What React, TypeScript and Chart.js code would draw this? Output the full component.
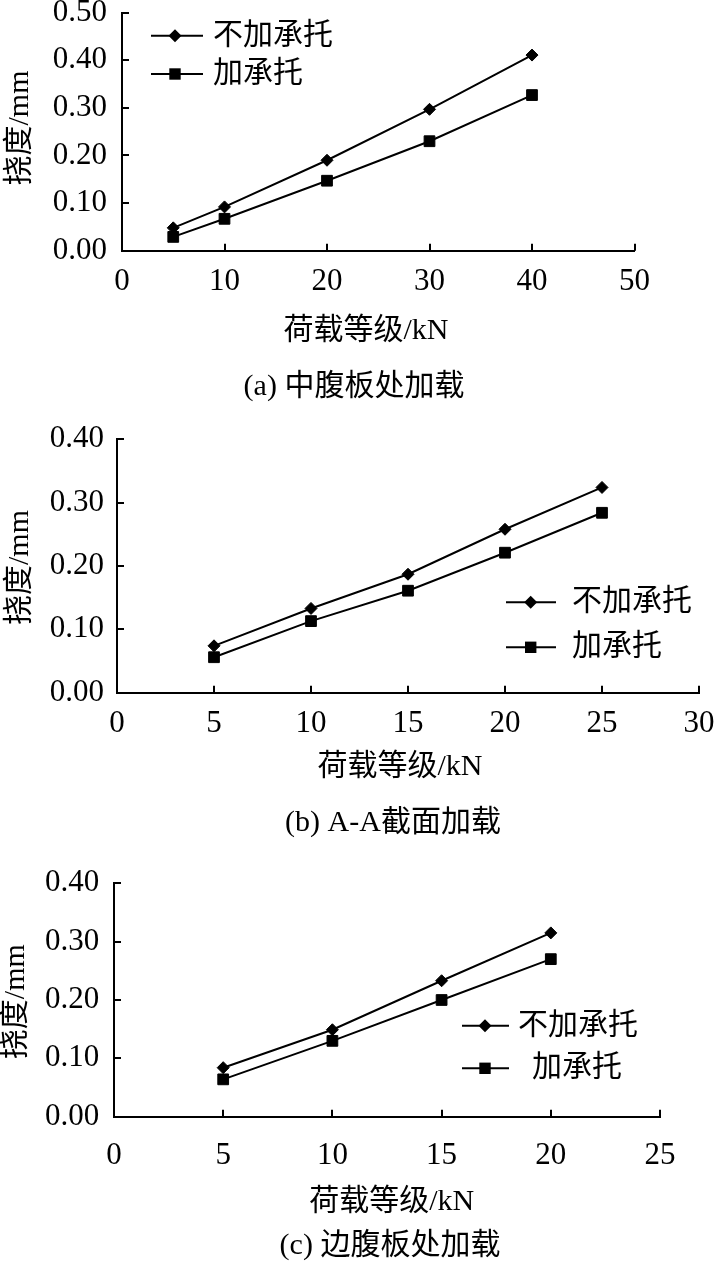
import React, { useEffect, useRef } from "react";
import { Chart, registerables } from "chart.js";

Chart.register(...registerables);

// ---------- data ----------
const legendLabels = ["不加承托", "加承托"];
const yAxisTitle = "挠度/mm";
const xAxisTitle = "荷载等级/kN";
const captions = ["(a) 中腹板处加载", "(b) A-A截面加载", "(c) 边腹板处加载"];

const loadsA = [5, 10, 20, 30, 40];
const noSupportA = [0.048, 0.092, 0.19, 0.297, 0.411];
const withSupportA = [0.029, 0.067, 0.147, 0.23, 0.327];

const loadsB = [5, 10, 15, 20, 25];
const noSupportB = [0.074, 0.133, 0.187, 0.258, 0.324];
const withSupportB = [0.056, 0.113, 0.161, 0.221, 0.284];

const loadsC = [5, 10, 15, 20];
const noSupportC = [0.084, 0.149, 0.233, 0.315];
const withSupportC = [0.064, 0.13, 0.2, 0.27];

const xMaxes = [50, 30, 25];
const xSteps = [10, 5, 5];
const yMaxes = [0.5, 0.4, 0.4];
const yStep = 0.1;

// ---------- styling / layout ----------
const SERIF = "'Liberation Serif', 'Times New Roman', 'Noto Sans CJK SC', serif";
const TEXT_FONT = "30px 'Liberation Serif', 'Noto Sans CJK SC', serif";
const TICK_SIZE = 31;
const W = 717;

type Panel = {
  top: number;
  height: number;
  area: { left: number; right: number; top: number; bottom: number };
  loads: number[];
  s1: number[];
  s2: number[];
  xMax: number;
  xStep: number;
  yMax: number;
  yTickPad: number;
  xTickPad: number;
  legend: { x0: number; x1: number; mx: number; rows: number[]; textX: number[] };
  yTitle: [number, number];
  xTitle: [number, number];
  caption: [number, number];
  captionText: string;
};

const panels: Panel[] = [
  {
    top: 0,
    height: 420,
    area: { left: 122, right: 634.5, top: 12.7, bottom: 250.7 },
    loads: loadsA,
    s1: noSupportA,
    s2: withSupportA,
    xMax: xMaxes[0],
    xStep: xSteps[0],
    yMax: yMaxes[0],
    yTickPad: 15,
    xTickPad: 13,
    legend: { x0: 151, x1: 203, mx: 175, rows: [35.7, 74], textX: [213, 213] },
    yTitle: [20, 128],
    xTitle: [366, 331],
    caption: [354, 387.5],
    captionText: captions[0],
  },
  {
    top: 420,
    height: 430,
    area: { left: 117, right: 699, top: 19.3, bottom: 272.7 },
    loads: loadsB,
    s1: noSupportB,
    s2: withSupportB,
    xMax: xMaxes[1],
    xStep: xSteps[1],
    yMax: yMaxes[1],
    yTickPad: 13,
    xTickPad: 13,
    legend: { x0: 506, x1: 556, mx: 530.7, rows: [182.3, 227.3], textX: [572, 572] },
    yTitle: [20, 147.5],
    xTitle: [400, 346.7],
    caption: [393, 402.7],
    captionText: captions[1],
  },
  {
    top: 850,
    height: 419,
    area: { left: 114, right: 660, top: 33.3, bottom: 266.7 },
    loads: loadsC,
    s1: noSupportC,
    s2: withSupportC,
    xMax: xMaxes[2],
    xStep: xSteps[2],
    yMax: yMaxes[2],
    yTickPad: 14.7,
    xTickPad: 21,
    legend: { x0: 462, x1: 509, mx: 485, rows: [175.7, 218.3], textX: [518, 532] },
    yTitle: [16, 151.7],
    xTitle: [391.7, 352],
    caption: [390, 396],
    captionText: captions[2],
  },
];

function drawMarker(ctx: CanvasRenderingContext2D, style: string, x: number, y: number) {
  ctx.beginPath();
  if (style === "rectRot") {
    const r = 6.5;
    ctx.moveTo(x - r, y);
    ctx.lineTo(x, y - r);
    ctx.lineTo(x + r, y);
    ctx.lineTo(x, y + r);
    ctx.closePath();
  } else {
    const h = 5.7;
    ctx.rect(x - h, y - h, 2 * h, 2 * h);
  }
  ctx.fill();
}

const decorPlugin = {
  id: "decor",
  afterDraw(chart: any, _args: any, opts: any) {
    const p: Panel = opts.panel;
    if (!p) return;
    const ctx: CanvasRenderingContext2D = chart.ctx;
    const xs = chart.scales.x;
    const ys = chart.scales.y;
    const ca = chart.chartArea;
    ctx.save();
    ctx.strokeStyle = "#000";
    ctx.fillStyle = "#000";
    ctx.lineWidth = 2;
    // inward tick marks
    ctx.beginPath();
    xs.ticks.forEach((t: any) => {
      const px = Math.round(xs.getPixelForValue(t.value));
      ctx.moveTo(px, ca.bottom);
      ctx.lineTo(px, ca.bottom - 7);
    });
    ys.ticks.forEach((t: any) => {
      const py = Math.round(ys.getPixelForValue(t.value));
      ctx.moveTo(ca.left, py);
      ctx.lineTo(ca.left + 7, py);
    });
    ctx.stroke();

    // legend
    const L = p.legend;
    ctx.font = TEXT_FONT;
    ctx.textBaseline = "middle";
    ctx.textAlign = "left";
    chart.data.datasets.forEach((ds: any, i: number) => {
      const y = L.rows[i];
      ctx.lineWidth = 2;
      ctx.beginPath();
      ctx.moveTo(L.x0, y);
      ctx.lineTo(L.x1, y);
      ctx.stroke();
      drawMarker(ctx, ds.pointStyle, L.mx, y);
      ctx.fillText(ds.label, L.textX[i], y);
    });

    // axis titles and caption
    ctx.textAlign = "center";
    ctx.fillText(xAxisTitle, p.xTitle[0], p.xTitle[1]);
    ctx.fillText(p.captionText, p.caption[0], p.caption[1]);
    ctx.translate(p.yTitle[0], p.yTitle[1]);
    ctx.rotate(-Math.PI / 2);
    ctx.fillText(yAxisTitle, 0, 0);
    ctx.restore();
  },
};

function PanelChart({ p }: { p: Panel }) {
  const ref = useRef<HTMLCanvasElement | null>(null);
  useEffect(() => {
    const canvas = ref.current;
    if (!canvas) return;
    const xScaleH = 60;
    const mk = (vals: number[]) => p.loads.map((x, i) => ({ x, y: vals[i] }));
    const dsBase = {
      borderColor: "#000",
      backgroundColor: "#000",
      borderWidth: 2,
      tension: 0,
      pointBackgroundColor: "#000",
      pointBorderColor: "#000",
      pointBorderWidth: 1,
    };
    const chart = new Chart(canvas, {
      type: "line",
      data: {
        datasets: [
          { ...dsBase, label: legendLabels[0], data: mk(p.s1), pointStyle: "rectRot", pointRadius: 6, pointHoverRadius: 6 },
          { ...dsBase, label: legendLabels[1], data: mk(p.s2), pointStyle: "rect", pointRadius: 7.6, pointHoverRadius: 7.6 },
        ],
      } as any,
      options: {
        animation: false,
        responsive: false,
        maintainAspectRatio: false,
        devicePixelRatio: 1,
        events: [],
        layout: {
          padding: {
            left: 0,
            top: p.area.top,
            right: W - p.area.right,
            bottom: p.height - p.area.bottom - xScaleH,
          },
        },
        plugins: {
          legend: { display: false },
          tooltip: { enabled: false },
          decor: { panel: p },
        } as any,
        scales: {
          x: {
            type: "linear",
            min: 0,
            max: p.xMax,
            grid: { display: false, drawTicks: false },
            border: { display: true, color: "#000", width: 2 },
            ticks: {
              stepSize: p.xStep,
              padding: p.xTickPad,
              color: "#000",
              font: { family: SERIF, size: TICK_SIZE },
              maxRotation: 0,
              autoSkip: false,
            },
            afterFit: (s: any) => {
              s.height = xScaleH;
              s.paddingLeft = 0;
              s.paddingRight = 0;
            },
          },
          y: {
            type: "linear",
            min: 0,
            max: p.yMax,
            grid: { display: false, drawTicks: false },
            border: { display: true, color: "#000", width: 2 },
            ticks: {
              stepSize: yStep,
              padding: p.yTickPad,
              color: "#000",
              font: { family: SERIF, size: TICK_SIZE },
              callback: (v: any) => Number(v).toFixed(2),
              autoSkip: false,
            },
            afterFit: (s: any) => {
              s.width = p.area.left;
              s.paddingTop = 0;
              s.paddingBottom = 0;
            },
          },
        },
      } as any,
      plugins: [decorPlugin],
    });
    return () => chart.destroy();
  }, [p]);
  return (
    <canvas
      ref={ref}
      width={W}
      height={p.height}
      style={{ position: "absolute", left: 0, top: p.top, width: W, height: p.height, display: "block" }}
    />
  );
}

export default function App() {
  return (
    <div style={{ position: "absolute", left: 0, top: 0, width: W, height: 1269, background: "#fff", overflow: "hidden" }}>
      {panels.map((p, i) => (
        <PanelChart key={i} p={p} />
      ))}
    </div>
  );
}
